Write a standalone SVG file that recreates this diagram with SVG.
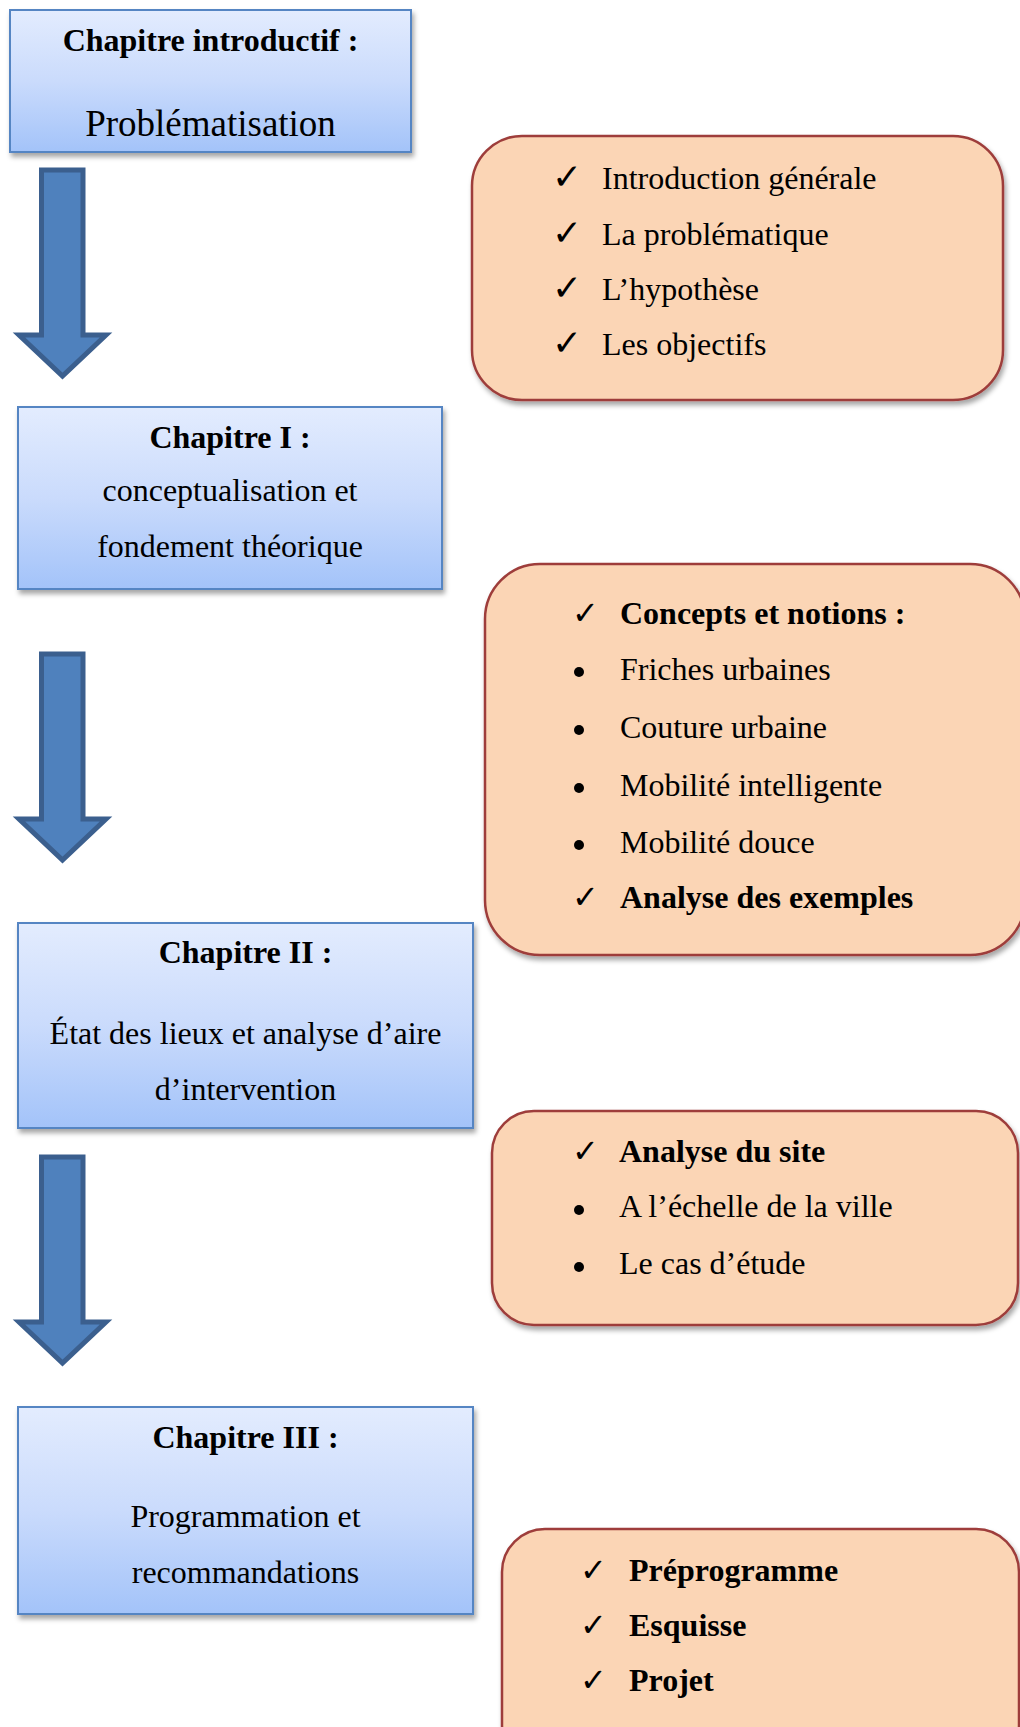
<svg xmlns="http://www.w3.org/2000/svg" xmlns:xlink="http://www.w3.org/1999/xlink" width="1020" height="1727" viewBox="0 0 1020 1727">
<defs>
<linearGradient id="blueGrad" x1="0" y1="0" x2="0" y2="1">
<stop offset="0" stop-color="#E3ECFE"/>
<stop offset="0.5" stop-color="#CADBFC"/>
<stop offset="1" stop-color="#A3C3F9"/>
</linearGradient>
<filter id="shadow" x="-10%" y="-10%" width="125%" height="130%">
<feDropShadow dx="2" dy="4" stdDeviation="2.5" flood-color="#000" flood-opacity="0.35"/>
</filter>
<path id="arrow" d="M41.5,0 H83 V165 H106 L62.5,206 L19,165 H41.5 Z"/>
</defs>
<style>
.blue{fill:url(#blueGrad);stroke:#5585C3;stroke-width:2;filter:url(#shadow)}
.orange{fill:#FBD5B5;stroke:#9E3E3B;stroke-width:2.5;filter:url(#shadow)}
.arr{fill:#4F81BD;stroke:#3B5F8E;stroke-width:5;stroke-linejoin:miter}
text{font-family:"Liberation Serif","Times New Roman",serif;fill:#000}
.t{font-size:32px}
.c{text-anchor:middle}
.b{font-weight:bold}
.big{font-size:37px}
.chk{font-family:"DejaVu Sans",sans-serif;font-size:32px}
.chkA{font-family:"DejaVu Sans",sans-serif;font-size:36px;font-weight:bold}
.dot{fill:#000}
</style>
<rect width="1020" height="1727" fill="#fff"/>

<g id="connectors">
<use xlink:href="#arrow" href="#arrow" class="arr" y="170"/>
<use xlink:href="#arrow" href="#arrow" class="arr" y="654"/>
<use xlink:href="#arrow" href="#arrow" class="arr" y="1157"/>
</g>

<g id="chap-intro">
<rect class="blue" x="10" y="10" width="401" height="142"/>
<text class="t b c" x="210.5" y="51">Chapitre introductif :</text>
<text class="big c" x="210.5" y="136">Problématisation</text>
</g>

<g id="chap-1">
<rect class="blue" x="18" y="407" width="424" height="182"/>
<text class="t b c" x="230" y="448">Chapitre I :</text>
<text class="t c" x="230" y="501">conceptualisation et</text>
<text class="t c" x="230" y="557">fondement théorique</text>
</g>

<g id="chap-2">
<rect class="blue" x="18" y="923" width="455" height="205"/>
<text class="t b c" x="245.5" y="963">Chapitre II :</text>
<text class="t c" x="245.5" y="1044">État des lieux et analyse d’aire</text>
<text class="t c" x="245.5" y="1100">d’intervention</text>
</g>

<g id="chap-3">
<rect class="blue" x="18" y="1407" width="455" height="207"/>
<text class="t b c" x="245.5" y="1448">Chapitre III :</text>
<text class="t c" x="245.5" y="1527">Programmation et</text>
<text class="t c" x="245.5" y="1583">recommandations</text>
</g>

<g id="list-intro">
<rect class="orange" x="472" y="136" width="531" height="264" rx="50" ry="50"/>
<text class="chkA" x="552" y="189">✓</text>
<text class="chkA" x="552" y="245">✓</text>
<text class="chkA" x="552" y="300">✓</text>
<text class="chkA" x="552" y="355">✓</text>
<text class="t" x="602" y="189">Introduction générale</text>
<text class="t" x="602" y="245">La problématique</text>
<text class="t" x="602" y="300">L’hypothèse</text>
<text class="t" x="602" y="355">Les objectifs</text>
</g>

<g id="list-1">
<rect class="orange" x="485" y="564" width="540" height="391" rx="55" ry="55"/>
<text class="chk" x="572" y="624">✓</text>
<text class="t b" x="620" y="624">Concepts et notions :</text>
<circle class="dot" cx="579" cy="672" r="5"/>
<text class="t" x="620" y="680">Friches urbaines</text>
<circle class="dot" cx="579" cy="730" r="5"/>
<text class="t" x="620" y="738">Couture urbaine</text>
<circle class="dot" cx="579" cy="788" r="5"/>
<text class="t" x="620" y="796">Mobilité intelligente</text>
<circle class="dot" cx="579" cy="845" r="5"/>
<text class="t" x="620" y="853">Mobilité douce</text>
<text class="chk" x="572" y="908">✓</text>
<text class="t b" x="620" y="908">Analyse des exemples</text>
</g>

<g id="list-2">
<rect class="orange" x="492" y="1111" width="526" height="214" rx="42" ry="42"/>
<text class="chk" x="572" y="1162">✓</text>
<text class="t b" x="619" y="1162">Analyse du site</text>
<circle class="dot" cx="579" cy="1210" r="5"/>
<text class="t" x="619" y="1217">A l’échelle de la ville</text>
<circle class="dot" cx="579" cy="1267" r="5"/>
<text class="t" x="619" y="1274">Le cas d’étude</text>
</g>

<g id="list-3">
<rect class="orange" x="502" y="1529" width="517" height="240" rx="43" ry="43"/>
<text class="chk" x="580" y="1581">✓</text>
<text class="t b" x="629" y="1581">Préprogramme</text>
<text class="chk" x="580" y="1636">✓</text>
<text class="t b" x="629" y="1636">Esquisse</text>
<text class="chk" x="580" y="1691">✓</text>
<text class="t b" x="629" y="1691">Projet</text>
</g>
</svg>
